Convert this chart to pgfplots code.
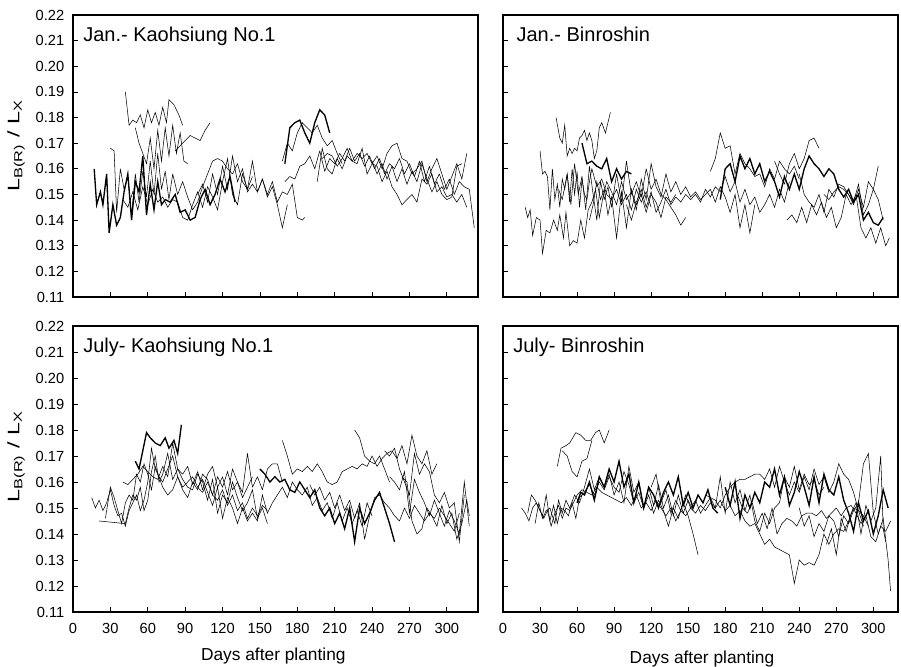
\documentclass[border=0pt]{standalone}
\usepackage{fontspec}
\setmainfont{Liberation Sans}
\usepackage{pgfplots}
\pgfplotsset{compat=1.18}
\pgfplotsset{
  panel/.style={
    scale only axis, ymin=0.11, ymax=0.22,
    ytick={0.11,0.12,0.13,0.14,0.15,0.16,0.17,0.18,0.19,0.20,0.21,0.22},
    xtick={0,30,60,90,120,150,180,210,240,270,300},
    tick align=inside, tick pos=left, major tick length=4pt,
    axis line style={line width=0.8pt}, tick style={line width=0.6pt, black},
    /pgf/number format/assume math mode=true,
    yticklabel style={/pgf/number format/fixed, /pgf/number format/fixed zerofill, /pgf/number format/precision=2, /pgf/number format/assume math mode=true, xshift=-3pt},
    xticklabel style={yshift=-5pt},
    ticklabel style={font=\fontsize{11}{13}\selectfont},
    cycle list={{black, solid, mark=none, line width=1pt, line join=round}},
  }
}
\tikzset{ttl/.style={anchor=north west, inner sep=0pt, font=\fontsize{15}{17}\selectfont}}
\newcommand{\ylab}{\scalebox{1.4}[1]{L\textsubscript{B(R)} / L\textsubscript{X}}}
\begin{document}
\begin{tikzpicture}[x=1pt,y=1pt]
% ---------------- Top left: Jan. Kaohsiung No.1
\begin{axis}[panel, at={(54.75pt,277.5pt)}, anchor=south west, width=303.75pt, height=211.5pt,
  xmin=0, xmax=325, xticklabels={}]
\addplot coordinates {(42,.190)(45,.177)(48,.179)(51,.178)(54,.181)(57,.176)(60,.183)(63,.178)(66,.182)(69,.177)(72,.184)(75,.178)(77,.187)(81,.185)(85,.181)(88,.177)};
\addplot coordinates {(50,.176)(53,.170)(56,.166)(59,.162)(62,.172)(65,.160)(68,.175)(71,.163)(74,.176)(77,.165)(80,.177)(83,.166)(86,.174)(89,.163)(92,.162)};
\addplot coordinates {(82,.167)(86,.169)(90,.171)(94,.173)(98,.172)(102,.171)(106,.175)(110,.178)};
\addplot coordinates {(17,.160)(19,.146)(22,.151)(24,.146)(27,.158)(29,.135)(32,.146)(35,.138)(38,.141)(41,.151)(44,.158)(47,.140)(50,.155)(53,.151)(56,.165)(59,.142)(62,.154)(65,.144)(68,.155)(71,.146)(74,.148)(78,.147)(82,.150)(86,.143)(90,.144)(94,.140)(98,.141)(102,.148)(106,.152)(110,.146)(114,.150)(118,.156)(122,.151)(126,.157)(130,.147)};
\addplot coordinates {(30,.168)(33,.167)(35,.143)(38,.160)(41,.152)(44,.157)(47,.142)(50,.158)(53,.147)(56,.159)(59,.149)(62,.163)(65,.150)(68,.166)(71,.152)(74,.159)(77,.148)(80,.158)(84,.150)(88,.155)(92,.149)(96,.144)(100,.147)(104,.153)(108,.158)(112,.163)(116,.164)(120,.163)(124,.160)(128,.158)(132,.162)(136,.155)(140,.152)(144,.157)};
\addplot coordinates {(40,.148)(44,.145)(48,.151)(52,.144)(56,.153)(60,.146)(64,.152)(68,.147)(72,.149)(76,.145)(80,.148)(84,.147)(88,.141)(92,.140)(96,.146)(100,.151)(104,.145)(108,.153)(112,.149)(116,.144)(120,.155)(124,.164)(128,.150)(132,.146)(136,.158)(140,.152)(144,.163)(148,.151)(152,.156)(156,.149)(160,.153)(164,.146)(168,.137)(172,.146)};
\addplot coordinates {(100,.150)(104,.154)(108,.147)(112,.158)(116,.150)(120,.161)(124,.152)(128,.165)(132,.155)(136,.160)(140,.151)(144,.154)(148,.151)(152,.156)(156,.150)(160,.155)(164,.147)(168,.151)(172,.150)(176,.154)(180,.141)(184,.140)(186,.141)};
\addplot coordinates {(168,.163)(172,.170)(176,.167)(180,.174)(184,.178)(188,.176)(192,.174)(196,.177)(200,.172)(204,.169)(208,.171)(212,.166)(216,.162)};
\addplot coordinates {(170,.162)(174,.176)(178,.178)(182,.179)(186,.174)(190,.170)(194,.178)(198,.183)(202,.181)(206,.174)};
\addplot coordinates {(170,.155)(174,.157)(178,.156)(182,.161)(186,.162)(190,.165)(194,.160)(198,.167)(202,.159)(206,.164)(210,.162)(214,.166)(218,.163)(222,.168)(226,.163)(230,.166)(234,.161)(238,.165)(242,.160)(246,.164)(250,.158)(254,.162)(258,.160)(262,.164)(266,.158)(270,.162)(274,.157)(278,.163)(282,.155)(286,.161)(290,.154)(294,.158)(298,.152)(302,.156)(306,.150)(310,.155)(314,.153)(318,.152)(322,.137)};
\addplot coordinates {(196,.155)(200,.168)(204,.160)(208,.158)(212,.164)(216,.160)(220,.165)(224,.163)(228,.162)(232,.168)(236,.158)(240,.162)(244,.161)(248,.155)(252,.159)(256,.153)(260,.150)(264,.146)(268,.148)(272,.150)(276,.147)(280,.156)(284,.154)(288,.158)(292,.151)(296,.153)(300,.149)(304,.150)(308,.147)(312,.150)(316,.145)};
\addplot coordinates {(200,.164)(204,.166)(208,.165)(212,.161)(216,.164)(220,.168)(224,.163)(228,.166)(232,.164)(236,.166)(240,.162)(244,.165)(248,.160)(252,.166)(256,.169)(260,.170)(264,.164)(268,.163)(272,.158)(276,.160)(280,.163)(284,.155)(288,.160)(292,.164)(296,.158)(300,.152)(304,.157)(308,.162)(312,.156)(316,.166)};
\addplot coordinates {(240,.163)(244,.158)(248,.162)(252,.156)(256,.161)(260,.155)(264,.160)(268,.154)(272,.159)(276,.155)(280,.162)(284,.156)(288,.151)(292,.155)(296,.150)(300,.148)(304,.149)(308,.161)(312,.162)};
\node[ttl] at ([xshift=7.5pt,yshift=-9pt]rel axis cs:0,1) {Jan.- Kaohsiung No.1};
\end{axis}
% ---------------- Top right: Jan. Binroshin
\begin{axis}[panel, at={(377.25pt,277.5pt)}, anchor=south west, width=296.25pt, height=211.5pt,
  xmin=0, xmax=320, xticklabels={}, yticklabels={}]
\addplot coordinates {(18,.145)(20,.141)(22,.144)(24,.134)(27,.141)(30,.140)(32,.127)(35,.136)(38,.135)(41,.140)(44,.136)(46,.142)(49,.133)(51,.143)(54,.130)(57,.132)(60,.131)(63,.140)(66,.133)(69,.144)(72,.147)(75,.152)(78,.141)(81,.149)(84,.155)(88,.151)(92,.146)(96,.155)(100,.148)(104,.151)(108,.146)(112,.150)(116,.143)(120,.150)(124,.147)(128,.141)(132,.149)(136,.147)(140,.150)};
\addplot coordinates {(43,.180)(46,.172)(48,.170)(50,.177)(52,.165)(54,.168)(56,.166)(58,.168)(60,.167)(62,.172)(64,.173)(66,.175)(68,.171)(70,.174)(72,.171)(74,.164)(76,.167)(78,.176)(80,.178)(83,.174)(87,.182)};
\addplot coordinates {(30,.167)(32,.158)(34,.159)(36,.157)(38,.144)(40,.160)(42,.148)(44,.154)(46,.145)(48,.156)(50,.152)(52,.158)(54,.147)(56,.160)(58,.150)(60,.159)(62,.145)(64,.156)(66,.150)(68,.148)(70,.155)(72,.160)(76,.153)(80,.156)(84,.150)(88,.148)(92,.152)(96,.146)(100,.150)(104,.144)(108,.152)(112,.147)(116,.151)(120,.145)};
\addplot coordinates {(64,.170)(68,.162)(72,.163)(76,.161)(80,.160)(84,.164)(88,.155)(92,.160)(96,.156)(100,.159)(104,.158)};
\addplot coordinates {(45,.152)(48,.148)(52,.158)(55,.146)(58,.162)(61,.150)(64,.157)(67,.144)(70,.161)(73,.150)(76,.140)(79,.155)(82,.148)(85,.153)(88,.145)(92,.158)(96,.147)(100,.163)(104,.150)(108,.155)(112,.149)(116,.160)(120,.152)(124,.156)(128,.150)(132,.148)(136,.145)(140,.142)(144,.138)(148,.141)};
\addplot coordinates {(70,.140)(73,.146)(76,.155)(79,.148)(82,.152)(85,.142)(88,.149)(92,.133)(96,.151)(100,.137)(104,.152)(108,.144)(112,.156)(116,.148)(120,.162)(124,.153)(128,.149)(132,.158)(136,.151)(140,.155)(144,.150)(148,.153)(152,.149)(156,.151)(160,.148)(164,.150)(168,.152)(172,.147)(176,.153)(180,.149)(184,.143)(188,.150)(192,.137)(196,.146)(200,.135)(204,.146)};
\addplot coordinates {(100,.146)(104,.140)(108,.147)(112,.152)(116,.145)(120,.151)(124,.143)(128,.147)(132,.152)(136,.146)(140,.149)(144,.147)(148,.150)(152,.148)(156,.150)(160,.147)(164,.152)(168,.149)(172,.153)(176,.151)(180,.157)(184,.151)(188,.155)(192,.147)(196,.152)(200,.146)(204,.149)(208,.143)(212,.146)(216,.150)(220,.145)(224,.152)(228,.147)(232,.155)};
\addplot coordinates {(168,.159)(172,.164)(176,.174)(180,.168)(184,.169)(188,.158)(192,.166)(196,.162)(200,.160)(204,.157)(208,.158)(212,.153)(216,.160)(220,.156)(224,.163)(228,.160)(232,.158)(236,.161)(240,.156)};
\addplot coordinates {(176,.148)(180,.160)(184,.162)(188,.155)(192,.165)(196,.160)(200,.164)(204,.158)(208,.162)(212,.155)(216,.159)(220,.155)(224,.149)(228,.157)(232,.152)(236,.158)(240,.152)(244,.160)(248,.165)(252,.162)(256,.160)(260,.157)(264,.160)(268,.158)(272,.152)(276,.149)(280,.152)(284,.147)(288,.150)(292,.140)(296,.143)(300,.139)(304,.138)(308,.141)};
\addplot coordinates {(220,.163)(224,.158)(228,.154)(232,.162)(236,.166)(240,.160)(244,.164)(248,.171)(252,.172)(256,.168)};
\addplot coordinates {(230,.140)(234,.142)(238,.139)(242,.145)(246,.139)(250,.146)(254,.142)(258,.147)(262,.141)(266,.145)(270,.137)(274,.141)(278,.150)(282,.146)(286,.150)(290,.137)(294,.133)(298,.137)(302,.131)(306,.137)(310,.130)(313,.133)};
\addplot coordinates {(240,.158)(244,.150)(248,.147)(252,.145)(256,.150)(260,.143)(264,.152)(268,.149)(272,.154)(276,.153)(280,.150)(284,.146)(288,.152)(292,.145)(296,.155)(300,.152)(304,.161)};
\addplot coordinates {(260,.150)(264,.148)(268,.151)(272,.153)(276,.152)(280,.150)(284,.147)(288,.154)(292,.142)(296,.146)(300,.152)(304,.148)(308,.140)};
\node[ttl] at ([xshift=10pt,yshift=-9pt]rel axis cs:0,1) {Jan.- Binroshin};
\end{axis}
% ---------------- Bottom left: July Kaohsiung No.1
\begin{axis}[panel, at={(54.75pt,41.25pt)}, anchor=south west, width=303.75pt, height=214.5pt,
  xmin=0, xmax=325]
\addplot coordinates {(15,.154)(18,.150)(21,.153)(24,.149)(27,.152)(30,.157)(33,.151)(36,.147)(39,.148)(42,.143)(45,.149)(48,.152)(51,.155)(54,.149)(57,.153)(60,.160)(63,.173)(66,.165)(69,.162)(72,.158)(76,.155)(80,.157)(84,.162)(88,.158)(92,.160)(96,.162)(100,.158)(104,.156)(108,.160)(112,.155)(116,.153)(120,.157)(124,.151)(128,.155)(132,.149)(136,.152)(140,.146)(144,.150)(148,.147)(152,.151)(156,.149)};
\addplot coordinates {(21,.145)(42,.144)(45,.150)(48,.155)(51,.153)(54,.158)(57,.149)(60,.153)(63,.164)(66,.170)(69,.160)(72,.163)(76,.171)(80,.161)(84,.165)(88,.161)(92,.158)(96,.157)(100,.163)(104,.160)(108,.153)(112,.161)(116,.148)(120,.155)(124,.152)(128,.160)(132,.154)(136,.149)(140,.152)(144,.157)(148,.146)(152,.150)(156,.144)};
\addplot coordinates {(26,.146)(30,.158)(33,.154)(36,.149)(39,.144)(42,.152)(45,.155)(48,.153)(51,.163)(54,.160)(57,.167)(60,.163)(63,.157)(66,.166)(69,.162)(72,.160)(76,.165)(80,.170)(84,.162)(88,.157)(92,.154)(96,.160)(100,.157)(104,.163)(108,.161)(112,.155)(116,.162)(120,.158)(124,.164)(128,.157)(132,.160)(136,.154)(140,.158)(144,.162)};
\addplot coordinates {(50,.168)(53,.165)(56,.172)(59,.179)(62,.177)(66,.175)(70,.174)(74,.177)(77,.173)(81,.176)(84,.171)(87,.182)};
\addplot coordinates {(40,.160)(44,.159)(48,.161)(52,.163)(56,.166)(60,.164)(64,.162)(68,.161)(72,.166)(76,.162)(80,.175)(84,.165)(88,.163)(92,.166)(96,.159)(100,.164)(104,.157)(108,.163)(112,.166)(116,.158)(120,.162)(124,.155)(128,.165)(132,.160)(136,.156)(140,.171)(144,.158)(148,.162)(152,.157)(156,.165)(160,.167)(164,.167)(168,.160)};
\addplot coordinates {(100,.158)(104,.161)(108,.156)(112,.151)(116,.158)(120,.146)(124,.154)(128,.150)(132,.144)(136,.150)(140,.145)(144,.148)(148,.145)(152,.155)(156,.148)(160,.152)(164,.155)(168,.158)(172,.154)(176,.160)(180,.157)(184,.155)(188,.158)(192,.151)(196,.154)(200,.149)(204,.152)(208,.146)(212,.152)(216,.145)(220,.150)(224,.144)(228,.149)(232,.143)(236,.152)(240,.147)};
\addplot coordinates {(168,.176)(172,.170)(176,.163)(180,.165)(184,.164)(188,.166)(192,.164)(196,.167)(200,.164)(204,.160)(208,.159)(212,.160)(216,.164)(220,.165)(224,.166)(228,.165)(232,.167)(236,.166)(240,.170)(244,.166)(248,.169)(252,.171)(256,.172)(260,.169)(264,.174)(268,.167)(272,.178)(276,.170)(280,.167)(284,.172)(288,.163)(292,.167)};
\addplot coordinates {(226,.180)(230,.177)(234,.170)(238,.168)(242,.167)(246,.170)(250,.165)(254,.160)};
\addplot coordinates {(150,.165)(154,.163)(158,.160)(162,.162)(166,.160)(170,.161)(174,.157)(178,.156)(182,.160)(186,.157)(190,.154)(194,.157)(198,.150)(202,.147)(206,.150)(210,.144)(214,.148)(218,.142)(222,.150)(226,.137)(230,.150)(234,.144)(238,.148)(242,.153)(246,.156)(250,.150)(254,.144)(258,.137)};
\addplot coordinates {(190,.159)(194,.155)(198,.158)(202,.153)(206,.156)(210,.150)(214,.155)(218,.149)(222,.153)(226,.146)(230,.152)(234,.138)(238,.147)(242,.154)(246,.155)(250,.152)(254,.150)(258,.147)(262,.145)(266,.150)(270,.146)(274,.151)(278,.148)(282,.145)(286,.148)(290,.146)(294,.150)(298,.147)(302,.144)(306,.141)(310,.148)};
\addplot coordinates {(254,.162)(258,.160)(262,.157)(266,.164)(270,.148)(274,.161)(278,.156)(282,.152)(286,.147)(290,.153)(294,.148)(298,.143)(302,.149)(306,.145)(310,.140)(314,.160)(318,.143)};
\addplot coordinates {(250,.172)(254,.170)(258,.173)(262,.165)(266,.160)(270,.155)(274,.171)(278,.163)(282,.167)(286,.164)(290,.155)(294,.152)(298,.156)(302,.150)(306,.152)(310,.137)(314,.155)};
\addplot coordinates {(264,.162)(268,.160)(272,.145)(276,.140)(280,.142)(284,.150)(288,.147)(292,.143)(296,.151)(300,.144)(304,.148)(308,.138)(312,.144)(316,.153)(318,.147)};
\node[ttl] at ([xshift=7.5pt,yshift=-9pt]rel axis cs:0,1) {July- Kaohsiung No.1};
\end{axis}
% ---------------- Bottom right: July Binroshin
\begin{axis}[panel, at={(377.25pt,41.25pt)}, anchor=south west, width=296.25pt, height=214.5pt,
  xmin=0, xmax=320, yticklabels={}]
\addplot coordinates {(15,.150)(18,.148)(21,.145)(24,.150)(27,.152)(30,.149)(33,.146)(36,.149)(39,.143)(42,.148)(45,.151)(48,.146)(51,.150)(54,.149)(57,.152)(60,.155)(64,.157)(68,.156)(72,.155)(76,.158)(80,.156)(84,.155)(88,.154)(92,.153)(96,.152)(100,.154)(104,.151)(108,.155)(112,.150)(116,.152)(120,.149)(124,.153)(128,.150)(132,.147)(136,.150)(140,.145)(144,.149)(148,.147)(152,.150)(156,.148)(160,.151)(164,.149)(168,.152)(172,.150)(176,.153)(180,.149)(184,.151)(188,.147)(192,.149)(196,.145)(200,.143)(204,.144)(208,.140)(212,.136)(216,.138)(220,.135)(224,.134)(228,.133)(232,.132)(236,.121)(240,.130)(244,.128)(248,.129)(252,.128)(256,.132)(260,.140)(264,.136)(268,.140)(272,.142)(276,.141)(280,.145)(284,.150)(288,.149)(292,.143)};
\addplot coordinates {(20,.148)(23,.155)(26,.153)(29,.150)(32,.147)(35,.155)(38,.145)(41,.151)(44,.144)(47,.150)(50,.149)(53,.147)(56,.152)(59,.146)(62,.154)(66,.156)(70,.159)(74,.155)(78,.160)(82,.157)(86,.162)(90,.158)(94,.156)(98,.164)(102,.159)(106,.152)(110,.156)(114,.150)(118,.155)(122,.148)(126,.153)(130,.149)(134,.143)(138,.150)(142,.146)(146,.152)(150,.147)(154,.140)(158,.132)};
\addplot coordinates {(26,.144)(29,.152)(32,.146)(35,.149)(38,.150)(42,.144)(45,.153)(48,.148)(51,.153)(54,.150)(58,.155)(62,.152)(66,.158)(70,.165)(74,.157)(78,.162)(82,.158)(86,.163)(90,.155)(94,.160)(98,.152)(102,.166)(106,.156)(110,.160)(114,.150)(118,.158)(122,.151)(126,.159)(130,.150)(134,.155)(138,.147)(142,.155)(146,.148)(150,.153)(154,.149)};
\addplot coordinates {(60,.152)(63,.156)(66,.155)(70,.160)(74,.153)(78,.162)(82,.158)(86,.165)(90,.160)(94,.168)(98,.158)(102,.163)(106,.152)(110,.160)(114,.150)(118,.158)(122,.155)(126,.150)(130,.156)(134,.160)(138,.155)(142,.162)(146,.151)(150,.156)(154,.150)(158,.155)(162,.152)(166,.157)(170,.150)(174,.148)};
\addplot coordinates {(44,.166)(47,.173)(51,.174)(54,.175)(59,.179)(63,.178)(67,.176)(71,.176)(75,.179)(78,.180)(82,.175)(86,.180)};
\addplot coordinates {(48,.172)(52,.170)(56,.164)(60,.162)(64,.168)(68,.169)(72,.176)};
\addplot coordinates {(120,.158)(124,.163)(128,.152)(132,.157)(136,.148)(140,.153)(144,.149)(148,.155)(152,.150)(156,.153)(160,.148)(164,.151)(168,.154)(172,.150)(176,.162)(180,.148)(184,.160)(188,.152)(192,.157)(196,.149)(200,.155)(204,.145)(208,.141)(212,.148)(216,.144)(220,.150)(224,.152)(228,.162)(232,.158)(236,.166)(240,.157)(244,.163)(248,.159)(252,.161)(256,.155)(260,.158)};
\addplot coordinates {(164,.155)(168,.154)(172,.153)(176,.150)(180,.155)(184,.158)(188,.160)(192,.161)(196,.161)(200,.162)(204,.163)(208,.163)(212,.161)(216,.165)(220,.158)(224,.166)(228,.160)(232,.155)(236,.160)(240,.156)(244,.162)(248,.157)(252,.165)(256,.159)(260,.162)(264,.156)(268,.160)(272,.167)(276,.163)(280,.161)(284,.156)(288,.149)(292,.147)(296,.143)};
\addplot coordinates {(180,.158)(184,.151)(188,.160)(192,.146)(196,.155)(200,.150)(204,.156)(208,.152)(212,.160)(216,.158)(220,.165)(224,.155)(228,.162)(232,.151)(236,.156)(240,.164)(244,.158)(248,.151)(252,.162)(256,.152)(260,.163)(264,.157)(268,.155)(272,.162)(276,.153)(280,.148)(284,.141)(288,.152)(292,.145)(296,.149)(300,.140)(304,.147)(308,.157)(312,.150)};
\addplot coordinates {(190,.155)(194,.150)(198,.148)(202,.152)(206,.144)(210,.148)(214,.142)(218,.150)(222,.140)(226,.144)(230,.146)(234,.145)(238,.143)(242,.147)(246,.148)(250,.148)(254,.147)(258,.149)(262,.146)(266,.148)(270,.150)(274,.147)(278,.150)(282,.151)(286,.148)(290,.144)(294,.147)(298,.139)(302,.137)(306,.143)(310,.141)(314,.145)};
\addplot coordinates {(240,.150)(244,.143)(248,.147)(252,.139)(256,.144)(260,.141)(264,.147)(268,.145)(272,.139)(276,.147)(280,.144)(284,.149)(288,.152)(292,.167)(296,.171)(300,.148)(304,.140)(308,.146)(312,.130)(314,.118)};
\addplot coordinates {(262,.136)(266,.142)(270,.132)(274,.146)(278,.141)(282,.148)(286,.152)(290,.140)(294,.151)(298,.145)(302,.150)(306,.170)(308,.142)(310,.137)};
\node[ttl] at ([xshift=7.5pt,yshift=-9pt]rel axis cs:0,1) {July- Binroshin};
\end{axis}
% axis labels
\node[rotate=90, font=\fontsize{12.5}{15}\selectfont] at (12pt,391pt) {\ylab};
\node[rotate=90, font=\fontsize{12.5}{15}\selectfont] at (12pt,158pt) {\ylab};
\node[font=\fontsize{13}{15}\selectfont] at (205pt,8pt) {Days after planting};
\node[font=\fontsize{13}{15}\selectfont] at (526.5pt,6pt) {Days after planting};
\pgfresetboundingbox
\useasboundingbox (0,0) rectangle (675.75pt,500.25pt);
\end{tikzpicture}
\end{document}
